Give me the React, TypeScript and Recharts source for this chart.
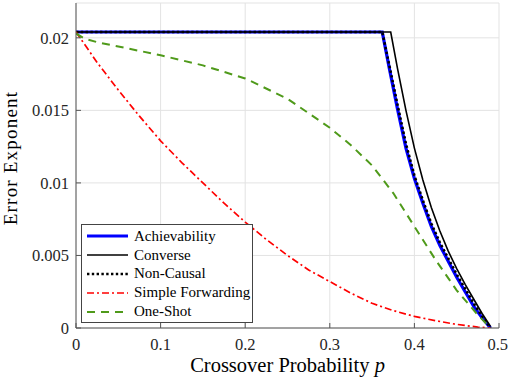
import React from "react";
import {
  LineChart,
  Line,
  XAxis,
  YAxis,
  CartesianGrid,
  Legend,
} from "recharts";

// crossover probability p -> error exponent
const achP = [0, 0.362, 0.37, 0.38, 0.39, 0.4, 0.41, 0.42, 0.43, 0.44, 0.45, 0.46, 0.47, 0.48, 0.49];
const achE = [0.0204, 0.0204, 0.018, 0.0151, 0.0124, 0.0103, 0.0086, 0.007, 0.0057, 0.0046, 0.0035, 0.0025, 0.0015, 0.0007, 0];

const conP = [0, 0.372, 0.38, 0.39, 0.4, 0.41, 0.42, 0.43, 0.44, 0.45, 0.46, 0.47, 0.48, 0.49];
const conE = [0.0204, 0.0204, 0.0179, 0.015, 0.0124, 0.0102, 0.0083, 0.0067, 0.0053, 0.0041, 0.003, 0.002, 0.001, 0.0001];

const ncP = [0, 0.362, 0.37, 0.38, 0.39, 0.4, 0.41, 0.42, 0.43, 0.44, 0.45, 0.46, 0.47, 0.48, 0.49];
const ncE = [0.0204, 0.0204, 0.0182, 0.0154, 0.0127, 0.0105, 0.0088, 0.0072, 0.0059, 0.0048, 0.0037, 0.0027, 0.0017, 0.0008, 0];

const sfP = [0, 0.025, 0.05, 0.075, 0.1, 0.125, 0.15, 0.175, 0.2, 0.225, 0.25, 0.275, 0.3, 0.325, 0.35, 0.375, 0.4, 0.425, 0.45, 0.475, 0.49];
const sfE = [0.0204, 0.0183, 0.0164, 0.0146, 0.0129, 0.0114, 0.01, 0.0086, 0.0073, 0.0061, 0.005, 0.004, 0.0032, 0.0024, 0.0017, 0.0012, 0.0008, 0.0005, 0.00025, 0.00006, 0];

const osP = [0, 0.01, 0.025, 0.05, 0.1, 0.15, 0.2, 0.25, 0.3, 0.325, 0.35, 0.375, 0.4, 0.425, 0.45, 0.475, 0.49];
const osE = [0.0203, 0.01995, 0.0197, 0.0194, 0.0188, 0.0181, 0.0172, 0.0158, 0.0138, 0.0126, 0.0112, 0.0093, 0.007, 0.0047, 0.0026, 0.0009, 0];

const xTicks = [0, 0.1, 0.2, 0.3, 0.4, 0.5];
const yTicks = [0, 0.005, 0.01, 0.015, 0.02];

const toRows = (ps: number[], es: number[]) => ps.map((p, i) => ({ p, e: es[i] }));

const series = [
  { name: "Achievability", data: toRows(achP, achE), color: "#0000ff", width: 3.2, dash: undefined },
  { name: "Converse", data: toRows(conP, conE), color: "#000000", width: 1.6, dash: undefined },
  { name: "Non-Causal", data: toRows(ncP, ncE), color: "#000000", width: 2.6, dash: "2.4 2.4" },
  { name: "Simple Forwarding", data: toRows(sfP, sfE), color: "#ff0000", width: 1.7, dash: "7 3 2 3" },
  { name: "One-Shot", data: toRows(osP, osE), color: "#4f9a1a", width: 2, dash: "8 6" },
];

const FONT = "'Liberation Serif', 'Times New Roman', serif";
const AXIS = "#555555";

function LegendBox() {
  return (
    <div
      style={{
        width: 172,
        height: 99,
        border: "1px solid #444",
        background: "#fff",
        fontFamily: FONT,
        fontSize: 15,
        color: "#000",
        boxSizing: "border-box",
        paddingTop: 2,
        whiteSpace: "nowrap",
      }}
    >
      {series.map((s) => (
        <div key={s.name} style={{ display: "flex", alignItems: "center", height: 18.8 }}>
          <svg width={48} height={6} style={{ marginLeft: 4, flex: "none" }}>
            <line
              x1={1}
              x2={42}
              y1={3}
              y2={3}
              stroke={s.color}
              strokeWidth={s.width}
              strokeDasharray={s.dash}
            />
          </svg>
          <span>{s.name}</span>
        </div>
      ))}
    </div>
  );
}

function XLabel(props: any) {
  const vb = props.viewBox || {};
  return (
    <text
      x={vb.x + vb.width / 2}
      y={372}
      textAnchor="middle"
      style={{ fontFamily: FONT }}
      fontSize={20.5}
      fill="#000"
    >
      Crossover Probability <tspan fontStyle="italic">p</tspan>
    </text>
  );
}

function YLabel() {
  return (
    <text
      x={17}
      y={158}
      transform="rotate(-90 17 158)"
      textAnchor="middle"
      style={{ fontFamily: FONT }}
      fontSize={19}
      letterSpacing={1.2}
      fill="#000"
    >
      Error Exponent
    </text>
  );
}

export default function App() {
  const tickStyle = { fontSize: 16.5, fill: "#262626", style: { fontFamily: FONT } };
  return (
    <div style={{ position: "absolute", left: 0, top: 0, background: "#fff" }}>
      <LineChart width={508} height={384} margin={{ top: 3, right: 9, bottom: 0, left: 0 }}>
        <CartesianGrid stroke="#e3e3e3" strokeWidth={1} />
        <XAxis
          dataKey="p"
          type="number"
          domain={[0, 0.5]}
          ticks={xTicks}
          allowDataOverflow
          height={56}
          stroke={AXIS}
          tickSize={-5}
          tickMargin={15}
          tick={tickStyle}
          tickFormatter={(v: number) => String(v)}
          label={<XLabel />}
        />
        <XAxis
          xAxisId="top"
          orientation="top"
          dataKey="p"
          type="number"
          domain={[0, 0.5]}
          ticks={xTicks}
          height={0}
          stroke={AXIS}
          tickSize={-5}
          tickFormatter={() => ""}
        />
        <YAxis
          type="number"
          domain={[0, 0.0224]}
          ticks={yTicks}
          allowDataOverflow
          width={76}
          stroke={AXIS}
          tickSize={-5}
          tickMargin={12}
          tick={tickStyle}
          tickFormatter={(v: number) => String(v)}
          label={<YLabel />}
        />
        <YAxis
          yAxisId="right"
          orientation="right"
          type="number"
          domain={[0, 0.0224]}
          ticks={yTicks}
          width={0}
          stroke={AXIS}
          tickSize={-5}
          tickFormatter={() => ""}
        />
        {series.map((s) => (
          <Line
            key={s.name}
            name={s.name}
            data={s.data}
            dataKey="e"
            type="linear"
            stroke={s.color}
            strokeWidth={s.width}
            strokeDasharray={s.dash}
            dot={false}
            activeDot={false}
            isAnimationActive={false}
          />
        ))}
        <Legend
          layout="vertical"
          align="center"
          verticalAlign="middle"
          content={<LegendBox />}
          wrapperStyle={{ position: "absolute", left: 81, top: 224, width: 172 }}
        />
      </LineChart>
    </div>
  );
}
